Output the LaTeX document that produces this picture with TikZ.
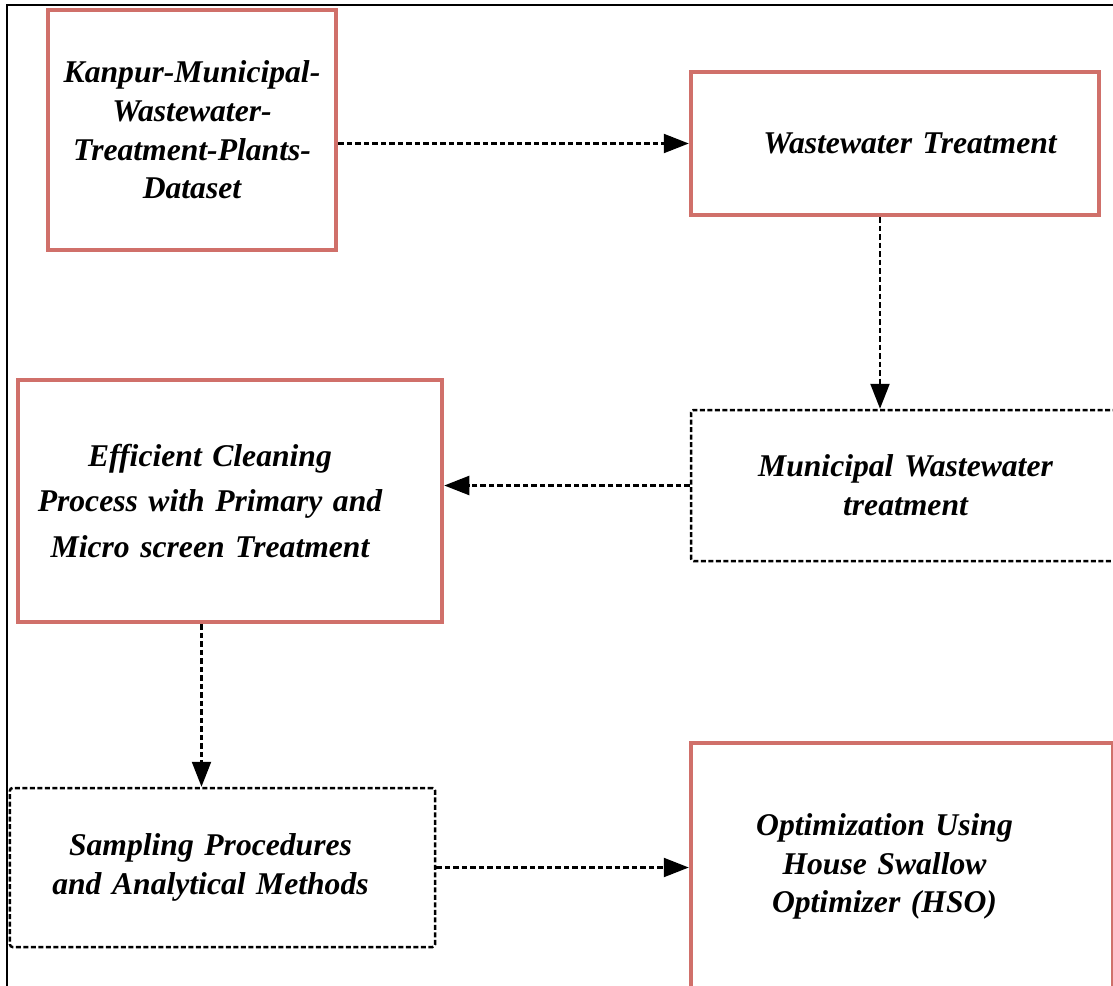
\documentclass[tikz,border=0pt]{standalone}
\usepackage{fontspec}
\setmainfont{Liberation Serif}
\usetikzlibrary{positioning,arrows.meta}
\definecolor{boxred}{RGB}{208,112,106}

\begin{document}
\begin{tikzpicture}[
	% box looks
	box text/.style={rectangle, inner sep=0.1cm, font=\fontsize{18}{22}\selectfont\bfseries\itshape},
	red box/.style={box text, draw=boxred, line width=0.09cm},
	dash box/.style={box text, draw=black, line width=0.05cm, rounded corners=0.05cm, dash pattern=on 0.1cm off 0.05cm},
	nudge/.style 2 args={execute at begin node={\centering\leftskip=#1 plus 1fil\rightskip=#2 plus 1fil\relax}},
	link/.style={-{Triangle[length=0.5cm,width=0.38cm]}, line width=0.045cm, dash pattern=on 0.11cm off 0.06cm}
	]
	\useasboundingbox (0,0) rectangle (22.26,-19.72);
	% outer frame
	\draw[line width=0.03cm] (0.14,-0.1) rectangle (23,-20.5);

	% the boxes
	\node[red box, minimum width=5.76cm, minimum height=4.8cm, text width=5.5cm, nudge={0pt}{0pt}] (dataset) at (3.84,-2.6)
		{Kanpur-Municipal-\\ Wastewater-\\ Treatment-Plants-\\ Dataset};
	\node[red box, minimum width=8.16cm, minimum height=2.86cm, text width=7.9cm, nudge={0.6cm}{0pt}] (treat) at (17.9,-2.87)
		{Wastewater Treatment};
	\node[dash box, minimum width=8.58cm, minimum height=3.02cm, text width=8.3cm, nudge={0pt}{0pt}] (municipal) at (18.11,-9.71)
		{Municipal Wastewater\\ treatment};
	\node[red box, minimum width=8.48cm, minimum height=4.84cm, text width=8.2cm, font=\fontsize{18}{26}\selectfont\bfseries\itshape, nudge={0pt}{0.8cm}] (cleaning) at (4.6,-10.02)
		{Efficient Cleaning\\ Process with Primary and\\ Micro screen Treatment};
	\node[dash box, minimum width=8.5cm, minimum height=3.18cm, text width=8.2cm, nudge={0pt}{0.48cm}] (sampling) at (4.45,-17.35)
		{Sampling Procedures\\ and Analytical Methods};
	\node[red box, minimum width=8.44cm, minimum height=4.94cm, text width=8.2cm, nudge={0pt}{0.7cm}] (hso) at (18.04,-17.33)
		{Optimization Using\\ House Swallow\\ Optimizer (HSO)};

	% connectors
	\draw[link] (dataset.east |- treat.west) -- (treat.west);
	\draw[link] ([xshift=-0.3cm]treat.south) -- ([xshift=-0.3cm]treat.south |- municipal.north);
	\draw[link] (municipal.west) -- (municipal.west -| cleaning.east);
	\draw[link] ([xshift=-0.42cm]sampling.north |- cleaning.south) -- ([xshift=-0.42cm]sampling.north);
	\draw[link] (sampling.east) -- (sampling.east -| hso.west);
\end{tikzpicture}
\end{document}
